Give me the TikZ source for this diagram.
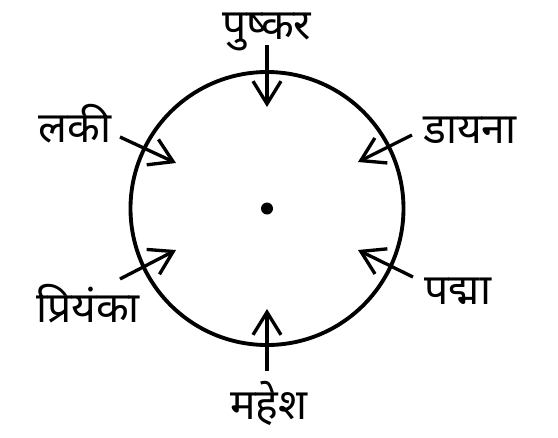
\documentclass[tikz,border=0pt]{standalone}
\usepackage{fontspec}
\newfontfamily\deva[Script=Devanagari]{Noto Sans}
\usetikzlibrary{arrows.meta}
\tikzset{
    lbl/.style={font=\deva\fontsize{32}{35}\selectfont, inner sep=0pt, anchor=base},
    arr/.style={line width=2.5pt, -{Straight Barb[length=17pt, width=21pt, line width=2.5pt]}}
}
\begin{document}
\begin{tikzpicture}[x=0.75pt, y=-0.75pt]
    \useasboundingbox (0,0) rectangle (558,437);
    \coordinate (o) at (267,208.5);
    \draw[line width=2.9pt] (o) circle (136.5);
    \fill (o) circle (6);

    \node[lbl] (pushkar) at (267,39) {पुष्कर};
    \node[lbl] (dayana) at (470,143) {डायना};
    \node[lbl] (padma) at (458,304) {पद्मा};
    \node[lbl] (mahesh) at (269,419) {महेश};
    \node[lbl] (priyanka) at (88,322) {प्रियंका};
    \node[lbl] (laki) at (75,142) {लकी};

    \coordinate (t1) at (267,45);   \coordinate (h1) at (267,107);
    \coordinate (t2) at (412,135);  \coordinate (h2) at (358,162);
    \coordinate (t3) at (413,277);  \coordinate (h3) at (358,250);
    \coordinate (t4) at (267,371);  \coordinate (h4) at (267,309);
    \coordinate (t5) at (120,279);  \coordinate (h5) at (176,250);
    \coordinate (t6) at (120,137);  \coordinate (h6) at (176,163);

    \foreach \i in {1,...,6}
        \draw[arr] (t\i) -- (h\i);
\end{tikzpicture}
\end{document}
